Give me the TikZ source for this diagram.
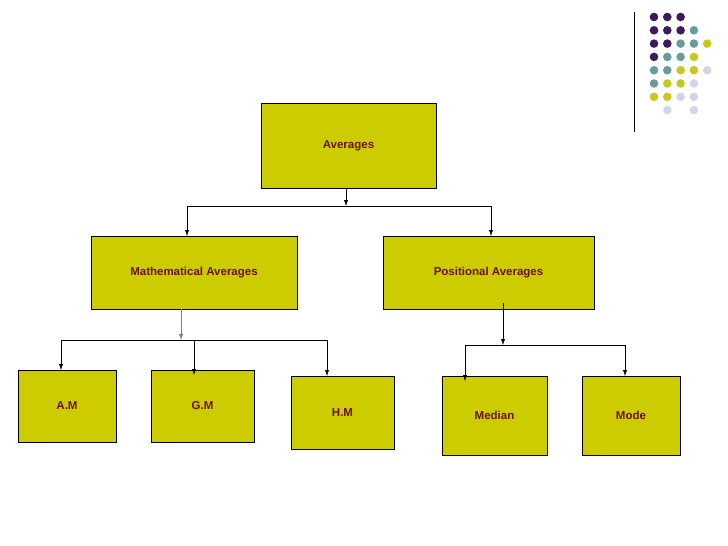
\documentclass[tikz,border=0pt]{standalone}
\usepackage{fontspec}
\setmainfont{Liberation Sans}
\usetikzlibrary{arrows.meta}
\definecolor{boxfill}{HTML}{CCCC00}
\definecolor{textred}{HTML}{6B1010}
\definecolor{dotP}{HTML}{3D1A5C}
\definecolor{dotT}{HTML}{6A9C9C}
\definecolor{dotY}{HTML}{C8C81E}
\definecolor{dotL}{HTML}{D4D4E6}
\definecolor{dotN}{HTML}{FFFFFF}
\tikzset{
  bx/.style={draw, fill=boxfill, text=textred, font=\bfseries\fontsize{11.5}{13}\selectfont, inner sep=0pt},
  arr/.style={-{Latex[length=6pt,width=4pt]}}
}
\begin{document}
\begin{tikzpicture}[x=1pt,y=-1pt]
\useasboundingbox (0,0) rectangle (728,546);
% boxes
\node[bx, minimum width=175, minimum height=85] (ave) at (348.5,145.5) {Averages};
\node[bx, minimum width=206, minimum height=73] (math) at (194,272.5) {Mathematical Averages};
\node[bx, minimum width=211, minimum height=73] (pos) at (488.5,272.5) {Positional Averages};
\node[bx, minimum width=98, minimum height=72] (am) at (67,406) {A.M};
\node[bx, minimum width=103, minimum height=72] (gm) at (202.5,406) {G.M};
\node[bx, minimum width=103, minimum height=73] (hm) at (342.5,412.5) {H.M};
\node[bx, minimum width=105, minimum height=79] (med) at (494.5,415.5) {Median};
\node[bx, minimum width=98, minimum height=79] (mode) at (631,415.5) {Mode};
%% top level
\coordinate (j1) at (346,206);
\draw[arr] (ave.south -| j1) -- (j1);
\draw (187,206) -- (491,206);
\draw[arr] (187,206) -- (187,236);
\draw[arr] (491,206) -- (491,236);
%% mathematical
\coordinate (j2) at (181,340);
\draw[arr, gray] (math.south -| j2) -- (j2);
\draw (61,340) -- (327,340);
\draw[arr] (61,340) -- (61,370);
\draw[arr] (194,340) -- (194,375);
\draw[arr] (327,340) -- (327,376);
%% positional
\coordinate (j3) at (503,345);
\draw[arr] (503,303) -- (j3);
\draw (465,345) -- (625,345);
\draw[arr] (465,345) -- (465,381);
\draw[arr] (625,345) -- (625,376);
%% dots
\draw (634,12) -- (634,132);
\foreach \row [count=\r] in {{P,P,P},{P,P,P,T},{P,P,T,T,Y},{P,T,T,Y},{T,T,Y,Y,L},{T,Y,Y,L},{Y,Y,L,L},{N,L,N,L}}
  \foreach \c [count=\k] in \row
    \fill[dot\c] (640.7+13.3*\k, 3.7+13.3*\r) circle (4.3);
\end{tikzpicture}
\end{document}
